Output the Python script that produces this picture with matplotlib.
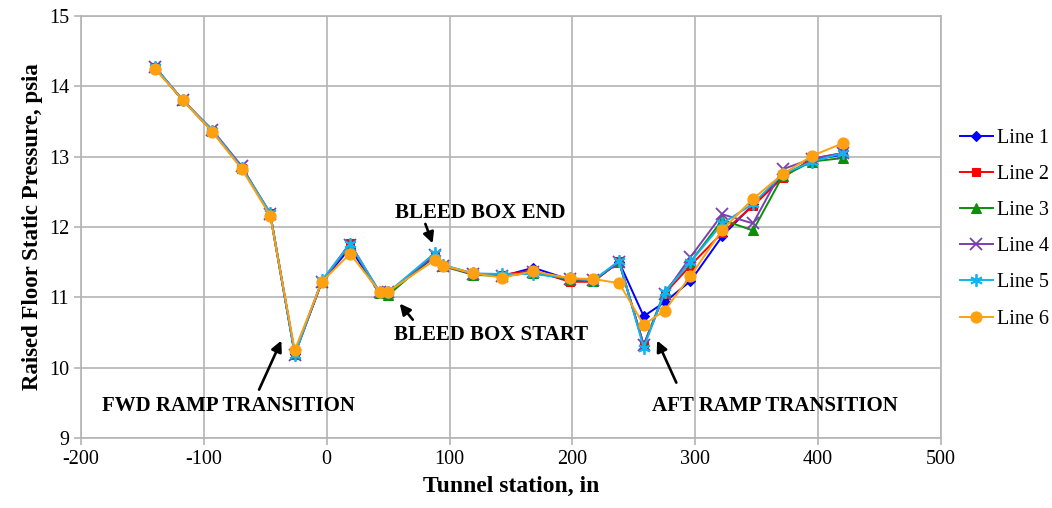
import numpy as np
import matplotlib.pyplot as plt

# tunnel stations, in
station = [-140, -117, -93, -69, -46, -26, -4, 19, 43, 50, 88, 95, 119, 143,
           168, 198, 217, 238, 258, 275, 296, 322, 347, 371, 395, 420]

line1 = [14.27, 13.80, 13.36, 12.84, 12.18, 10.20, 11.22, 11.70, 11.06, 11.06, 11.58, 11.45, 11.34,
         11.30, 11.42, 11.25, 11.23, 11.50, 10.73, 10.93, 11.23, 11.87, 12.32, 12.72, 12.95, 13.03]
line2 = [14.27, 13.80, 13.36, 12.84, 12.20, 10.20, 11.22, 11.77, 11.07, 11.06, 11.60, 11.45, 11.33,
         11.32, 11.38, 11.22, 11.22, 11.51, 10.32, 11.05, 11.45, 11.92, 12.30, 12.70, 12.97, 13.05]
line3 = [14.27, 13.80, 13.36, 12.84, 12.18, 10.20, 11.22, 11.75, 11.06, 11.03, 11.60, 11.44, 11.32,
         11.30, 11.35, 11.25, 11.23, 11.50, 10.32, 11.08, 11.50, 12.10, 11.95, 12.72, 12.93, 12.98]
line4 = [14.28, 13.80, 13.38, 12.86, 12.18, 10.18, 11.22, 11.75, 11.07, 11.07, 11.60, 11.45, 11.33,
         11.30, 11.36, 11.26, 11.24, 11.50, 10.32, 11.05, 11.57, 12.18, 12.05, 12.82, 12.97, 13.05]
line5 = [14.28, 13.80, 13.37, 12.84, 12.20, 10.18, 11.24, 11.76, 11.08, 11.07, 11.63, 11.46, 11.34,
         11.33, 11.33, 11.27, 11.24, 11.52, 10.28, 11.07, 11.50, 12.05, 12.33, 12.75, 12.93, 13.05]
line6 = [14.25, 13.80, 13.35, 12.82, 12.16, 10.25, 11.22, 11.62, 11.08, 11.08, 11.53, 11.45, 11.34,
         11.28, 11.37, 11.27, 11.26, 11.20, 10.61, 10.81, 11.30, 11.96, 12.40, 12.75, 13.01, 13.19]

labels = ['Line 1', 'Line 2', 'Line 3', 'Line 4', 'Line 5', 'Line 6']
series = [line1, line2, line3, line4, line5, line6]
colors = ['#0000ff', '#ff0000', '#0a8f0a', '#7b3fb0', '#10b4f0', '#ffa010']
markers = ['D', 's', '^', 'x', (6, 2, 0), 'o']
msizes = [5, 6, 7, 8, 9, 8]

plt.rcParams['font.family'] = ['Liberation Serif', 'DejaVu Serif']
plt.rcParams['axes.unicode_minus'] = False

fig = plt.figure(figsize=(10.52, 5.08), dpi=100)
ax = fig.add_axes([0.077, 0.138, 0.8175, 0.8305])

for y, lab, c, m, ms in zip(series, labels, colors, markers, msizes):
    ax.plot(station, y, color=c, marker=m, markersize=ms, lw=1.4, label=lab,
            markeredgewidth=1.3 if m in ('x', (6, 2, 0)) else 0.8)

ax.set_xlim(-200, 500)
ax.set_ylim(9, 15)
ax.set_xticks(np.arange(-200, 501, 100))
ax.set_yticks(np.arange(9, 16, 1))
ax.grid(True, color='#b4b4b4', lw=1.2)
for s in ax.spines.values():
    s.set_color('#b4b4b4')
    s.set_linewidth(1.2)
ax.tick_params(colors='#b4b4b4', labelcolor='black', labelsize=14.5, length=5, width=1.2)

ax.set_xlabel('Tunnel station, in', fontsize=17, fontweight='bold', labelpad=5)
ax.set_ylabel('Raised Floor Static Pressure, psia', fontsize=16.5, fontweight='bold', labelpad=4)

arrow = dict(arrowstyle='-|>', color='black', lw=1.9, mutation_scale=16)
tkw = dict(fontsize=15, fontweight='bold', ha='center', va='center')
ax.annotate('', xy=(-36, 10.42), xytext=(-56, 9.65), arrowprops=arrow)
ax.text(-80, 9.45, 'FWD RAMP TRANSITION', **tkw)
ax.annotate('', xy=(87, 11.73), xytext=(79.5, 12.08), arrowprops=arrow)
ax.text(125, 12.2, 'BLEED BOX END', **tkw)
ax.annotate('', xy=(58, 10.94), xytext=(71.5, 10.65), arrowprops=arrow)
ax.text(134, 10.47, 'BLEED BOX START', **tkw)
ax.annotate('', xy=(268, 10.42), xytext=(285.5, 9.75), arrowprops=arrow)
ax.text(365, 9.45, 'AFT RAMP TRANSITION', **tkw)

fig.legend(loc='center left', bbox_to_anchor=(0.909, 0.55), frameon=False,
           fontsize=14.5, labelspacing=0.85, handlelength=1.6, handletextpad=0.2,
           borderaxespad=0, borderpad=0.2)

fig.savefig('out.png', dpi=100)
